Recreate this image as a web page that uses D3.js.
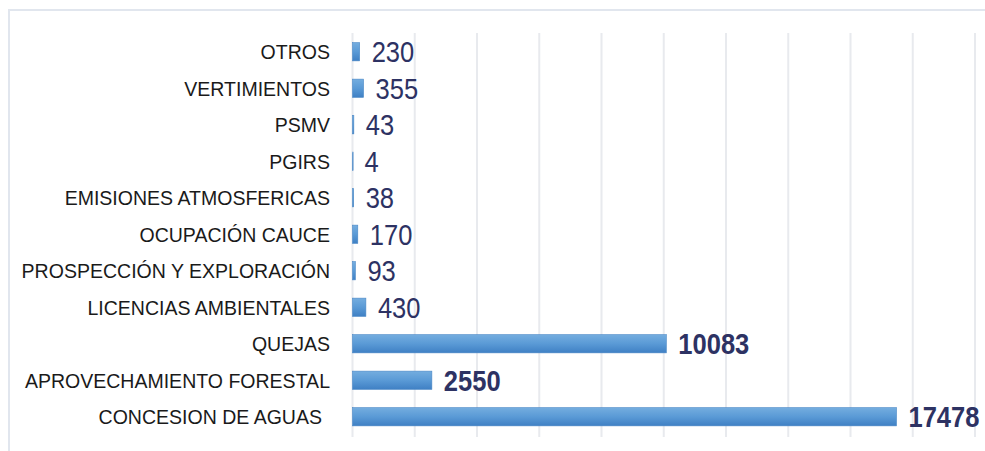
<!DOCTYPE html>
<html><head><meta charset="utf-8">
<script src="https://cdn.jsdelivr.net/npm/d3@7"></script>
<style>
html,body{margin:0;padding:0;background:#fff;}
svg{display:block;}
</style></head>
<body>
<svg id="chart" width="985" height="451"></svg>
<script>
const categories = ["OTROS","VERTIMIENTOS","PSMV","PGIRS","EMISIONES ATMOSFERICAS","OCUPACIÓN CAUCE","PROSPECCIÓN Y EXPLORACIÓN","LICENCIAS AMBIENTALES","QUEJAS","APROVECHAMIENTO FORESTAL","CONCESION DE AGUAS"];
const values = [230,355,43,4,38,170,93,430,10083,2550,17478];
const xTicks = [0,2000,4000,6000,8000,10000,12000,14000,16000,18000,20000];

const svg = d3.select("#chart");
const W = 985, H = 451;

const x = d3.scaleLinear().domain([0,20000]).range([352.5,975]);
const y = d3.scaleBand().domain(categories).range([33.5,435]).paddingInner(0.5).paddingOuter(0.25);

const defs = svg.append("defs");
const g = defs.append("linearGradient").attr("id","barGrad").attr("x1",0).attr("y1",0).attr("x2",0).attr("y2",1);
g.append("stop").attr("offset","0%").attr("stop-color","#74addf");
g.append("stop").attr("offset","50%").attr("stop-color","#5a9ad6");
g.append("stop").attr("offset","100%").attr("stop-color","#3f80c4");

// frame (top and left)
svg.append("path").attr("d",`M9,${H} L9,10 L${W},10`).attr("fill","none")
  .attr("stroke","#e1e6ee").attr("stroke-width",2);

// gridlines
svg.append("g").selectAll("line").data(xTicks).join("line")
  .attr("x1",d=>x(d)).attr("x2",d=>x(d))
  .attr("y1",33).attr("y2",437)
  .attr("stroke","#e8eaee").attr("stroke-width",2);

// bars
svg.append("g").selectAll("rect").data(values).join("rect")
  .attr("x",x(0))
  .attr("y",(d,i)=>y(categories[i]))
  .attr("width",d=>Math.max(0.6,x(d)-x(0)))
  .attr("height",y.bandwidth())
  .attr("fill","url(#barGrad)")
  .attr("stroke","#4a88c6").attr("stroke-width",0.6);

// category labels
svg.append("g").selectAll("text").data(categories).join("text")
  .attr("transform",(d,i)=>`translate(${i===10 ? 322 : 330},${y(d)+y.bandwidth()/2}) scale(0.93,1)`)
  .attr("dy","0.36em")
  .attr("text-anchor","end")
  .attr("font-family","Liberation Sans, Arial, sans-serif")
  .attr("font-size",21)
  .attr("fill","#1a1a1a")
  .text(d=>d);

// value labels
svg.append("g").selectAll("text").data(values).join("text")
  .attr("transform",(d,i)=>`translate(${x(d)+12},${y(categories[i])+y.bandwidth()/2}) scale(0.88,1)`)
  .attr("dy","0.36em")
  .attr("font-family","Liberation Sans, Arial, sans-serif")
  .attr("font-size",29)
  .attr("font-weight",d=>d>=1000?"bold":"normal")
  .attr("fill","#2d3263")
  .text(d=>d);
</script>
</body></html>
